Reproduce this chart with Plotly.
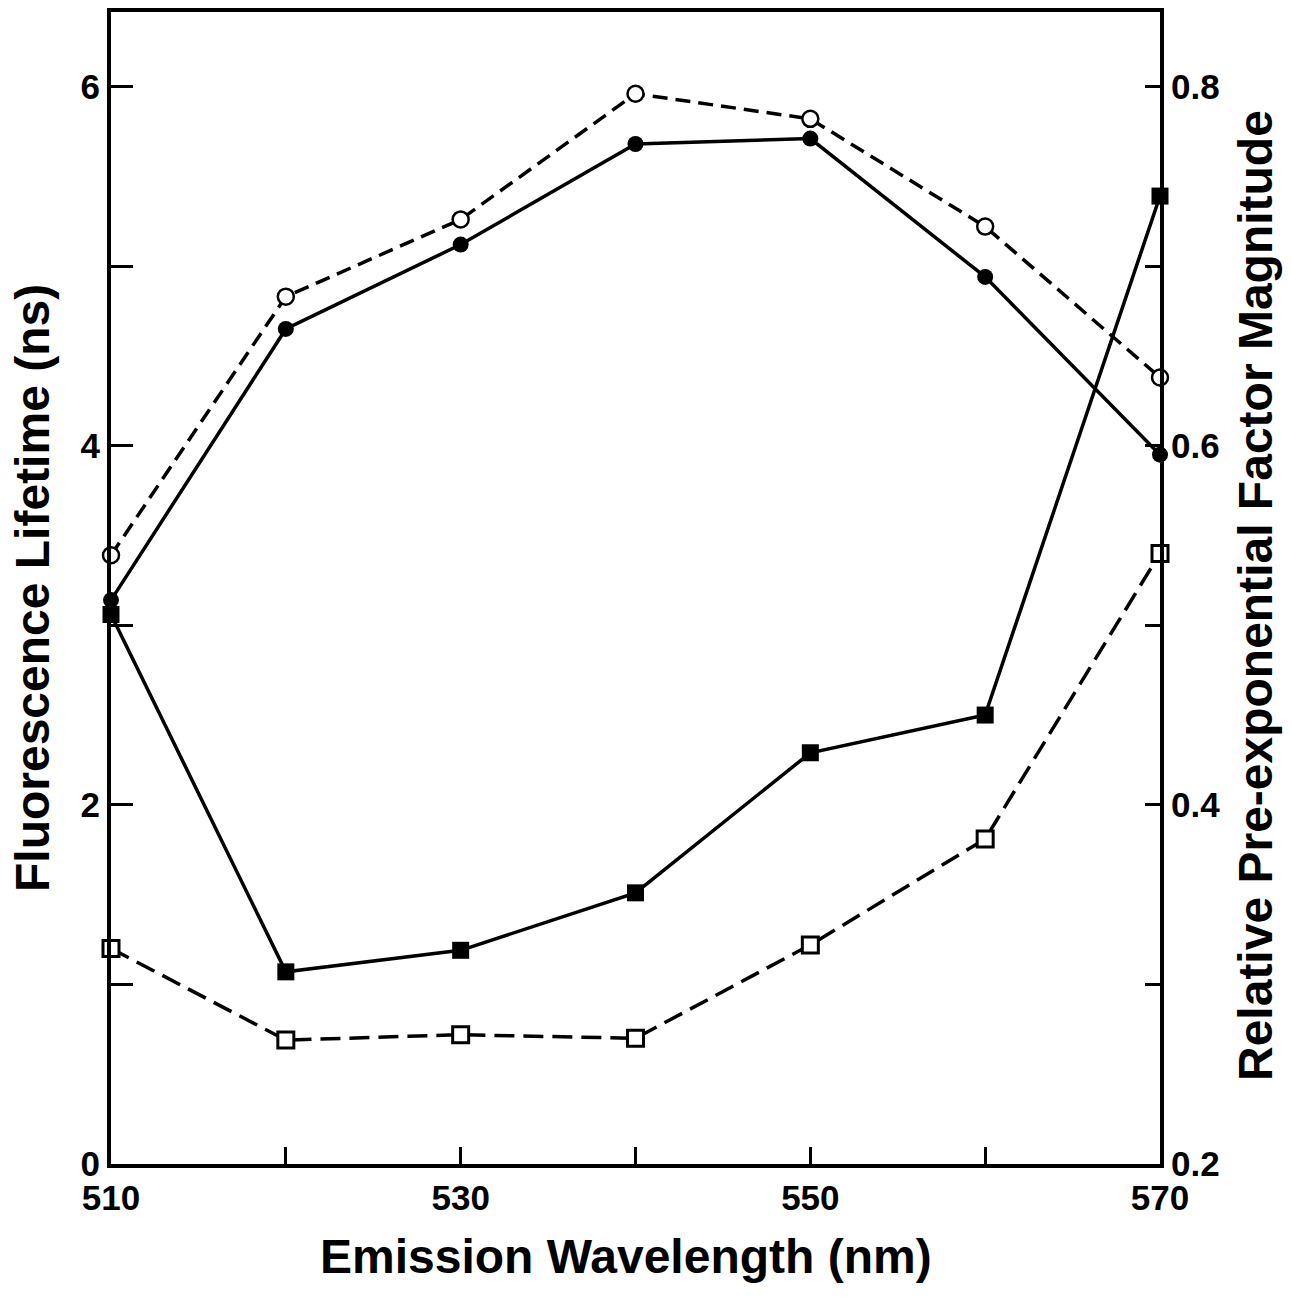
import plotly.graph_objects as go

# Emission wavelengths (nm)
wavelength = [510, 520, 530, 540, 550, 560, 570]

# Fluorescence lifetimes (ns), left axis
lifetime_open = [3.39, 4.83, 5.26, 5.96, 5.82, 5.22, 4.38]
lifetime_filled = [3.14, 4.65, 5.12, 5.68, 5.71, 4.94, 3.95]

# Relative pre-exponential factor magnitudes, right axis
preexp_filled = [0.506, 0.307, 0.319, 0.351, 0.429, 0.450, 0.739]
preexp_open = [0.320, 0.269, 0.272, 0.270, 0.322, 0.381, 0.540]

# Tick labels
x_tickvals = [510, 520, 530, 540, 550, 560, 570]
x_ticktext = ["510", "", "530", "", "550", "", "570"]
y_tickvals = [0, 1, 2, 3, 4, 5, 6]
y_ticktext = ["0", "", "2", "", "4", "", "6"]
y2_tickvals = [0.2, 0.3, 0.4, 0.5, 0.6, 0.7, 0.8]
y2_ticktext = ["0.2", "", "0.4", "", "0.6", "", "0.8"]

FONT = "Liberation Sans, Arial, Helvetica, sans-serif"
LW = 3.5

fig = go.Figure()

fig.add_trace(go.Scatter(
    x=wavelength, y=lifetime_open, mode="lines+markers",
    line=dict(color="black", width=LW, dash="15px,8px"),
    marker=dict(symbol="circle", size=16, color="white",
                line=dict(color="black", width=2.5)),
    cliponaxis=False, showlegend=False,
))
fig.add_trace(go.Scatter(
    x=wavelength, y=lifetime_filled, mode="lines+markers",
    line=dict(color="black", width=LW),
    marker=dict(symbol="circle", size=16, color="black"),
    cliponaxis=False, showlegend=False,
))
fig.add_trace(go.Scatter(
    x=wavelength, y=preexp_filled, mode="lines+markers", yaxis="y2",
    line=dict(color="black", width=LW),
    marker=dict(symbol="square", size=17, color="black"),
    cliponaxis=False, showlegend=False,
))
fig.add_trace(go.Scatter(
    x=wavelength, y=preexp_open, mode="lines+markers", yaxis="y2",
    line=dict(color="black", width=LW, dash="20px,9px"),
    marker=dict(symbol="square", size=16, color="white",
                line=dict(color="black", width=3)),
    cliponaxis=False, showlegend=False,
))

tickfont = dict(family=FONT, size=35, color="black", weight="bold")
titlefont = dict(family=FONT, size=48, color="black", weight="bold")

fig.update_layout(
    width=1292, height=1305,
    margin=dict(l=111, r=132, t=8, b=141),
    paper_bgcolor="white", plot_bgcolor="white",
    xaxis=dict(
        range=[510, 570], tickvals=x_tickvals, ticktext=x_ticktext,
        ticks="inside", ticklen=17, tickwidth=3, tickcolor="black",
        showline=True, linewidth=4, linecolor="black", mirror=True,
        showgrid=False, zeroline=False, tickfont=tickfont,
    ),
    yaxis=dict(
        range=[0, 6.415], tickvals=y_tickvals, ticktext=y_ticktext,
        ticks="inside", ticklen=22, tickwidth=3, tickcolor="black",
        showline=True, linewidth=4, linecolor="black",
        showgrid=False, zeroline=False, tickfont=tickfont,
    ),
    yaxis2=dict(
        range=[0.2, 0.8415], tickvals=y2_tickvals, ticktext=y2_ticktext,
        overlaying="y", side="right",
        ticks="inside", ticklen=15, tickwidth=3, tickcolor="black",
        showline=True, linewidth=4, linecolor="black",
        showgrid=False, zeroline=False, tickfont=tickfont,
    ),
    annotations=[
        dict(text="Emission Wavelength (nm)", xref="paper", yref="paper",
             x=0.5, y=0, xshift=-10, yshift=-92, xanchor="center",
             yanchor="middle", showarrow=False, font=titlefont),
        dict(text="Fluorescence Lifetime (ns)", xref="paper", yref="paper",
             x=0, y=0.5, xshift=-79, xanchor="center", yanchor="middle",
             textangle=-90, showarrow=False, font=titlefont),
        dict(text="Relative Pre-exponential Factor Magnitude", xref="paper",
             yref="paper", x=1, y=0.5, xshift=95, yshift=-8,
             xanchor="center", yanchor="middle", textangle=-90,
             showarrow=False, font=titlefont),
    ],
)

fig.write_html("out.html")
